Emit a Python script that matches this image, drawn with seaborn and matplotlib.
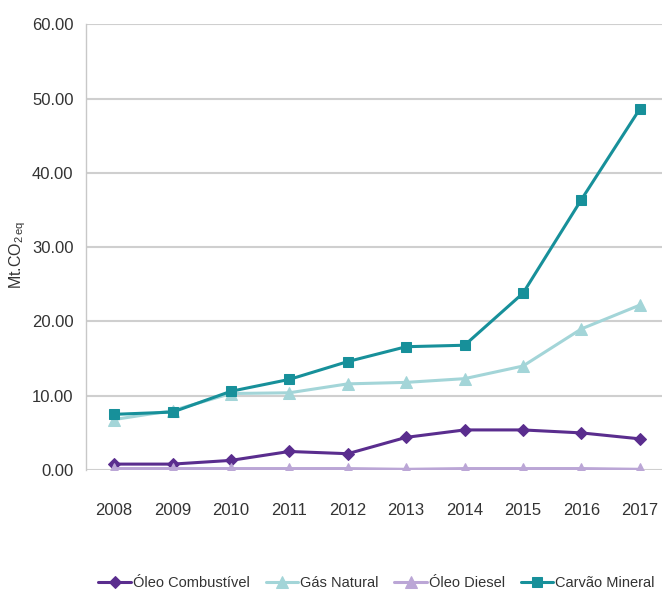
import matplotlib
matplotlib.use("Agg")
import matplotlib.pyplot as plt
import seaborn as sns
import pandas as pd
import numpy as np

years = ["2008", "2009", "2010", "2011", "2012", "2013", "2014", "2015", "2016", "2017"]
oleo_combustivel = [0.8, 0.8, 1.3, 2.5, 2.2, 4.4, 5.4, 5.4, 5.0, 4.2]
gas_natural = [6.8, 8.0, 10.3, 10.4, 11.6, 11.8, 12.3, 14.0, 19.0, 22.2]
oleo_diesel = [0.2, 0.2, 0.2, 0.2, 0.2, 0.1, 0.2, 0.2, 0.2, 0.1]
carvao_mineral = [7.5, 7.8, 10.6, 12.2, 14.6, 16.6, 16.8, 23.8, 36.4, 48.6]

series_names = ["Óleo Combustível", "Gás Natural", "Óleo Diesel", "Carvão Mineral"]
series_values = [oleo_combustivel, gas_natural, oleo_diesel, carvao_mineral]
colors = ["#5a2d8e", "#a3d5d8", "#bba6d6", "#17909a"]
markers = ["D", "^", "^", "s"]
sizes = [6, 8, 8, 7]

rows = []
for name, vals in zip(series_names, series_values):
    for i, (y, v) in enumerate(zip(years, vals)):
        rows.append({"pos": i, "ano": y, "serie": name, "valor": v})
df = pd.DataFrame(rows)

sns.set_theme(style="white")
plt.rcParams["font.family"] = ["Liberation Sans", "DejaVu Sans"]
plt.rcParams["mathtext.fontset"] = "custom"
plt.rcParams["mathtext.rm"] = "Liberation Sans"

fig = plt.figure(figsize=(6.62, 5.92), dpi=100)
ax = fig.add_axes([0.13, 0.206, 0.87, 0.753])

for name, col, mk, ms in zip(series_names, colors, markers, sizes):
    sub = df[df["serie"] == name]
    sns.lineplot(data=sub, x="pos", y="valor", ax=ax, color=col, marker=mk,
                 markersize=ms, markeredgecolor=col, linewidth=2.2, label=name,
                 legend=False)

ax.set_xlim(-0.48, 9.38)
ax.set_ylim(0, 60)
ax.set_yticks(np.arange(0, 61, 10))
ax.set_yticklabels([f"{v:.2f}" for v in np.arange(0, 61, 10)], fontsize=12, color="#333333")
ax.set_xticks(range(len(years)))
ax.set_xticklabels(years, fontsize=12, color="#333333")
ax.set_xticks(np.arange(0.5, len(years) - 1, 1), minor=True)
ax.tick_params(axis="x", which="major", length=0, pad=24)
ax.tick_params(axis="x", which="minor", length=7, color="#c8c8c8", width=1, direction="out")
ax.tick_params(axis="y", length=6, color="#c8c8c8", width=1, direction="out", pad=3)
ax.grid(axis="y", color="#cfcfcf", linewidth=1.5)
ax.set_axisbelow(True)
for s in ["top", "right", "bottom"]:
    ax.spines[s].set_visible(False)
ax.spines["left"].set_color("#c8c8c8")
ax.spines["left"].set_linewidth(1)
ax.set_xlabel("")
ax.set_ylabel("")
fig.text(0.026, 0.57, "Mt.CO$_{2\\,\\mathrm{eq}}$", rotation=90, fontsize=11.5,
         color="#333333", ha="center", va="center")

handles, labels = ax.get_legend_handles_labels()
fig.legend(handles, labels, loc="center right", bbox_to_anchor=(1.0, 0.015), ncol=4,
           frameon=False, fontsize=10.5, handlelength=2.2, columnspacing=1.1,
           handletextpad=0.15, borderaxespad=0.1, labelcolor="#333333")

fig.savefig("out.png", dpi=100)
